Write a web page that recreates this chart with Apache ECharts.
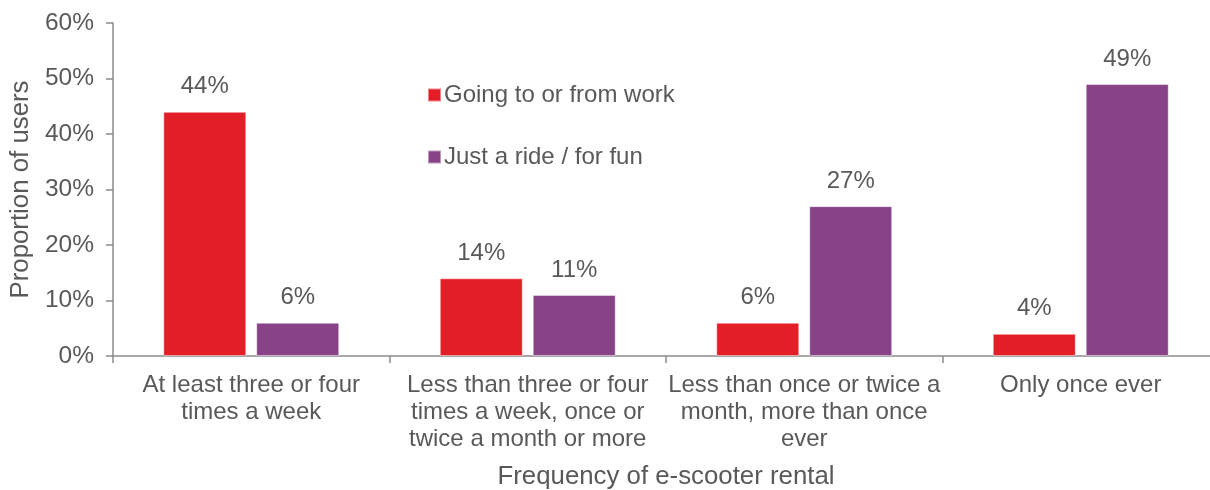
<!DOCTYPE html>
<html>
<head>
<meta charset="utf-8">
<script src="https://cdn.jsdelivr.net/npm/echarts@6/dist/echarts.min.js"></script>
<style>
  html, body { margin: 0; padding: 0; background: #ffffff; }
  #chart { width: 1210px; height: 490px; }
</style>
</head>
<body>
<div id="chart"></div>
<script>
// Rental frequency groups (line breaks as shown under the axis)
const categories = [
  'At least three or four\ntimes a week',
  'Less than three or four\ntimes a week, once or\ntwice a month or more',
  'Less than once or twice a\nmonth, more than once\never',
  'Only once ever'
];
const seriesNames = ['Going to or from work', 'Just a ride / for fun'];
// Proportion of users (%) per trip purpose
const workValues = [44, 14, 6, 4];
const funValues = [6, 11, 27, 49];
const yTicks = [0, 10, 20, 30, 40, 50, 60];

const textColor = '#595959';
const axisColor = '#8c8c8c';
const fontFamily = '"Liberation Sans", Arial, sans-serif';
const fontSize = 24;
const nameFontSize = 25.8;

const chart = echarts.init(document.getElementById('chart'), null, { renderer: 'canvas' });

const labelStyle = {
  show: true,
  position: 'top',
  distance: 13,
  color: textColor,
  fontFamily: fontFamily,
  fontSize: fontSize,
  formatter: p => p.value + '%'
};

chart.setOption({
  animation: false,
  backgroundColor: '#ffffff',
  textStyle: { fontFamily: fontFamily },
  // the plot runs a little past the right edge of the canvas
  grid: { left: 113, top: 23, right: -9, bottom: 134, containLabel: false, outerBoundsMode: 'none' },
  legend: {
    orient: 'vertical',
    left: 422,
    top: 78,
    itemWidth: 13,
    itemHeight: 13,
    itemGap: 38,
    icon: 'rect',
    data: seriesNames,
    textStyle: { color: textColor, fontSize: fontSize, lineHeight: 24, fontFamily: fontFamily, padding: [0, 0, 0, -2] }
  },
  xAxis: {
    type: 'category',
    data: categories,
    name: 'Frequency of e-scooter rental',
    nameLocation: 'middle',
    nameGap: 108,
    nameTextStyle: { color: textColor, fontSize: nameFontSize, fontFamily: fontFamily },
    axisLine: { lineStyle: { color: axisColor, width: 1.5 } },
    axisTick: { show: true, length: 7, inside: false, lineStyle: { color: axisColor, width: 1.5 } },
    axisLabel: {
      interval: 0,
      margin: 16,
      color: textColor,
      fontSize: fontSize,
      lineHeight: 27,
      fontFamily: fontFamily,
      align: 'center'
    }
  },
  yAxis: {
    type: 'value',
    min: yTicks[0],
    max: yTicks[yTicks.length - 1],
    interval: yTicks[1] - yTicks[0],
    name: 'Proportion of users',
    nameLocation: 'middle',
    nameGap: 70,
    nameTextStyle: { color: textColor, fontSize: nameFontSize, fontFamily: fontFamily },
    splitLine: { show: false },
    axisLine: { show: true, lineStyle: { color: axisColor, width: 1.5 } },
    axisTick: { show: true, length: 7, lineStyle: { color: axisColor, width: 1.5 } },
    axisLabel: {
      margin: 19,
      color: textColor,
      fontSize: 24.5,
      fontFamily: fontFamily,
      formatter: '{value}%'
    }
  },
  series: [
    {
      name: seriesNames[0],
      type: 'bar',
      data: workValues,
      barWidth: 83,
      barGap: '12%',
      itemStyle: { color: '#e41e27', borderColor: 'rgba(255,255,255,0.45)', borderWidth: 1 },
      label: labelStyle
    },
    {
      name: seriesNames[1],
      type: 'bar',
      data: funValues,
      barWidth: 83,
      barGap: '12%',
      itemStyle: { color: '#884388', borderColor: 'rgba(255,255,255,0.45)', borderWidth: 1 },
      label: labelStyle
    }
  ]
});
</script>
</body>
</html>
